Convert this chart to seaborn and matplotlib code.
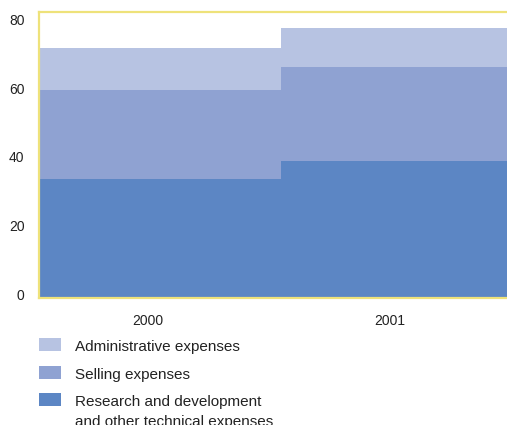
import matplotlib
matplotlib.use("Agg")
import matplotlib.pyplot as plt
import matplotlib.transforms as mtransforms
from matplotlib.patches import Rectangle
import seaborn as sns
import pandas as pd

years = ["2000", "2001"]
rnd = [34.6, 39.9]
selling = [26.0, 27.4]
admin = [12.2, 11.4]
series_labels = ["Administrative expenses", "Selling expenses",
                 "Research and development\nand other technical expenses"]
colors = ["#b7c3e2", "#8fa2d2", "#5c86c4"]
yticks = [0, 20, 40, 60, 80]

sns.set_theme(style="white")
plt.rcParams['font.family'] = ['Liberation Sans', 'DejaVu Sans']

W, H = 507, 425
fig = plt.figure(figsize=(W / 100, H / 100), dpi=100)
ax = fig.add_axes([39 / W, 1 - 298 / H, (523 - 39) / W, (298 - 12) / H])

cum_sell = [r + s for r, s in zip(rnd, selling)]
cum_admin = [c + a for c, a in zip(cum_sell, admin)]
df = pd.DataFrame({"year": years, "admin": cum_admin, "sell": cum_sell, "rnd": rnd})

for col, c in zip(["admin", "sell", "rnd"], colors):
    sns.barplot(data=df, x="year", y=col, color=c, width=1.0, saturation=1,
                linewidth=0, ax=ax)

ax.set_xlim(-0.5, 1.5)
ax.set_ylim(0, 83.4)
ax.set_yticks(yticks)
ax.set_yticklabels([str(t) for t in yticks])
ax.set_xlabel("")
ax.set_ylabel("")
ax.tick_params(axis="both", length=0, labelsize=10, labelcolor="#222222")
ax.tick_params(axis="y", pad=10.5)
ax.tick_params(axis="x", pad=11.5)
for sp in ax.spines.values():
    sp.set_visible(True)
    sp.set_color("#eee27a")
    sp.set_linewidth(1.6)
ax.grid(False)

for lab in ax.get_yticklabels():
    lab.set_transform(lab.get_transform() + mtransforms.ScaledTranslation(0, 4 / 100, fig.dpi_scale_trans))
for lab in ax.get_xticklabels():
    lab.set_transform(lab.get_transform() + mtransforms.ScaledTranslation(-12 / 100, 0, fig.dpi_scale_trans))

# legend (manual, so that the swatch aligns with the first text line)
patch_tops = [338, 366, 393]
baselines = [351, 379, 406]
for top, base, c, lab in zip(patch_tops, baselines, colors, series_labels):
    fig.add_artist(Rectangle((39 / W, 1 - (top + 13) / H), 22 / W, 13 / H,
                             transform=fig.transFigure, facecolor=c,
                             edgecolor="none"))
    first, *rest = lab.split("\n")
    fig.text(75 / W, 1 - base / H, first, fontsize=11, color="#222222",
             va="baseline", ha="left")
    for i, line in enumerate(rest, start=1):
        fig.text(75 / W, 1 - (base + 20 * i) / H, line, fontsize=11,
                 color="#222222", va="baseline", ha="left")

fig.savefig("out.png", dpi=100)
